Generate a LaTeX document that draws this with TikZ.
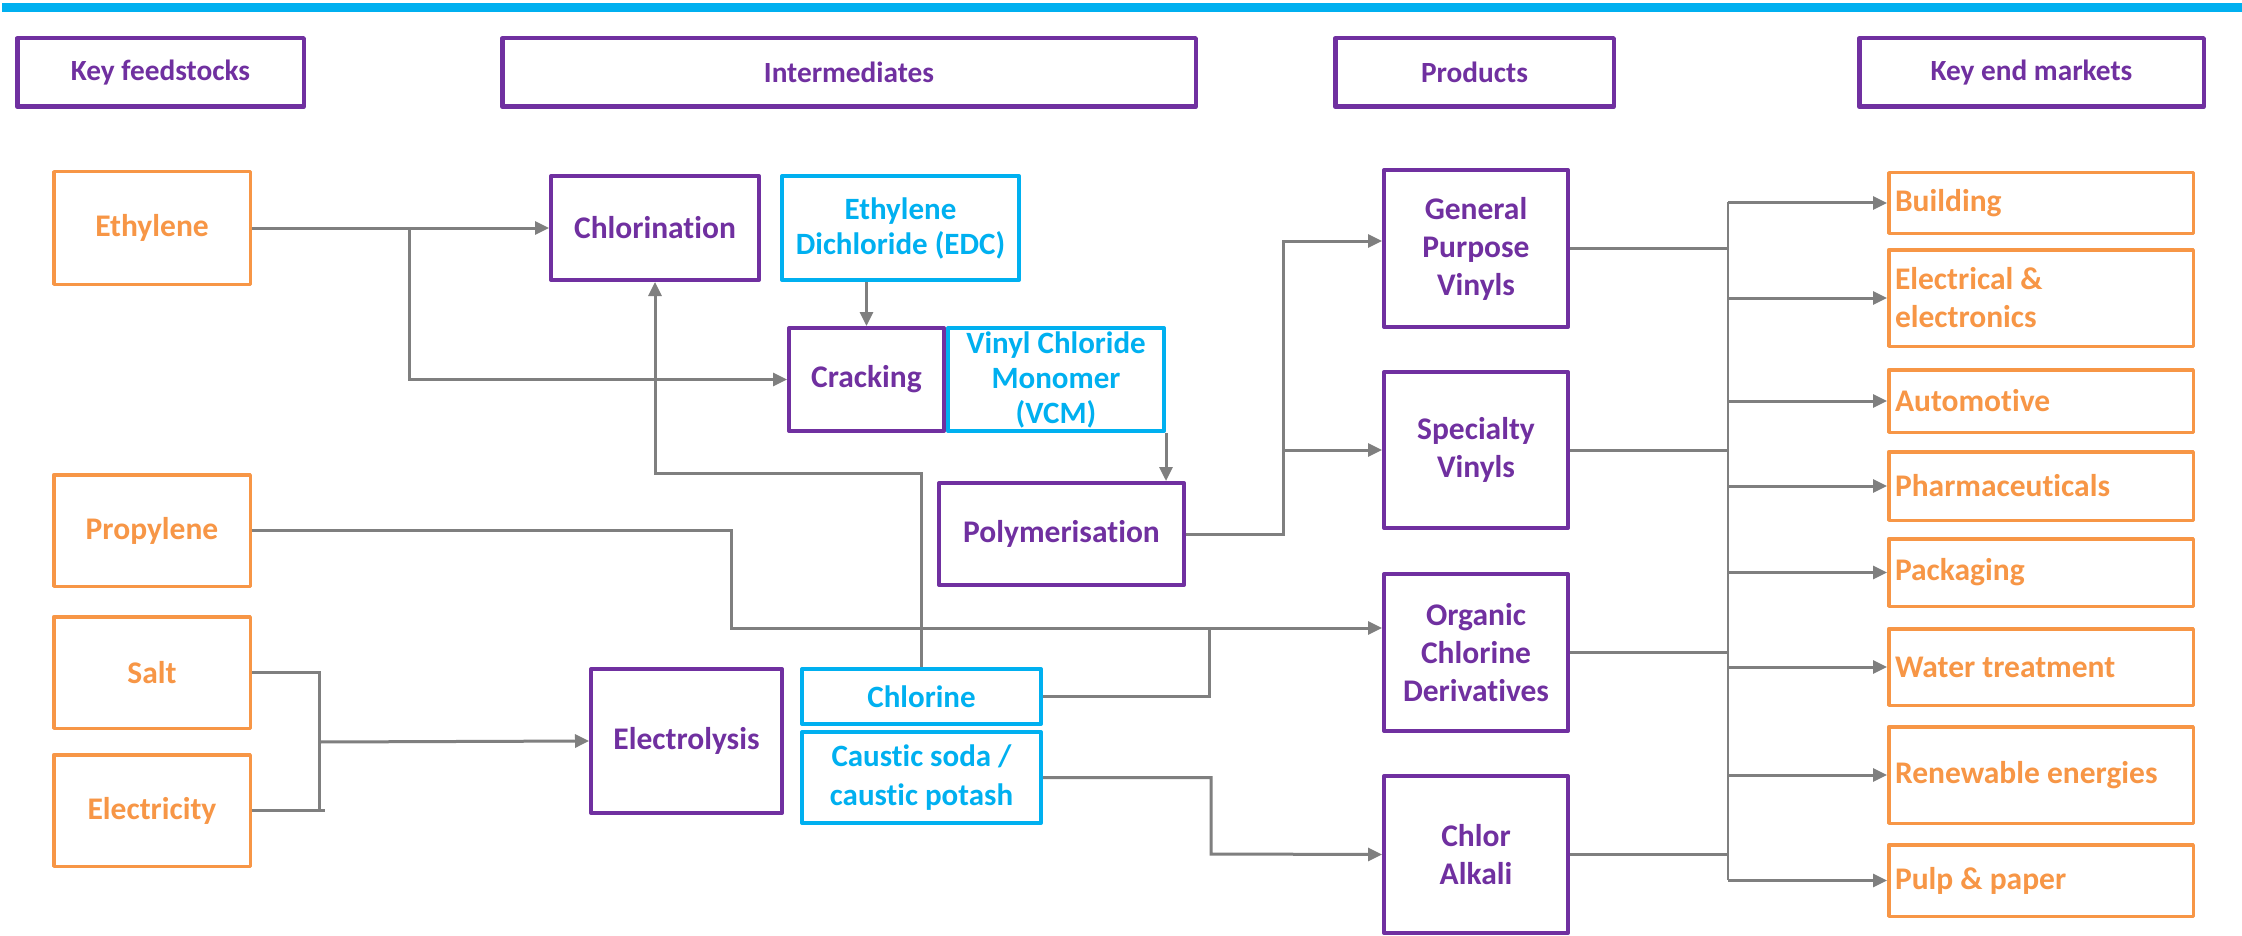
\documentclass[tikz,border=0pt]{standalone}
\usepackage{fontspec}
\setmainfont{Carlito}[Ligatures=NoCommon]
\usetikzlibrary{arrows.meta}
\definecolor{cpurple}{HTML}{7030A0}
\definecolor{corange}{HTML}{F79646}
\definecolor{cblue}{HTML}{00B0F0}
\definecolor{cgray}{HTML}{7F7F7F}
\begin{document}
\begin{tikzpicture}[x=1pt,y=-1pt,
  base/.style={inner sep=0pt, align=center, line join=round, font=\fontsize{31.5}{38}\selectfont\bfseries},
  hdr/.style={base, draw=cpurple, line width=4.5pt, text=cpurple, minimum height=68.5pt, font=\fontsize{29.3}{35}\selectfont\bfseries},
  feed/.style={base, draw=corange, line width=3.5pt, text=corange, minimum width=196.5pt},
  inter/.style={base, draw=cpurple, line width=4pt, text=cpurple},
  bluebox/.style={base, draw=cblue, line width=4pt, text=cblue, font=\fontsize{31}{35}\selectfont\bfseries},
  prod/.style={base, draw=cpurple, line width=4pt, text=cpurple, minimum width=184pt, font=\fontsize{31.5}{38}\selectfont\bfseries},
  mktbox/.style={base, draw=corange, line width=3.5pt, text=corange, minimum width=304.5pt, text width=292pt, inner xsep=6pt, align=flush left, font=\fontsize{31.5}{38}\selectfont\bfseries},
  conn/.style={draw=cgray, line width=3pt},
  arr/.style={conn, -{Triangle[length=14pt,width=13pt]}},
  busline/.style={draw=cgray, line width=2pt}
]
\useasboundingbox (0,0) rectangle (2242,936);
\fill[white] (0,0) rectangle (2242,936);
% top line
\coordinate (tl) at (2,7.5);
\coordinate (tr) at (2242,7.5);
\draw[cblue, line width=9pt] (tl) -- (tr);
% headers
\node[hdr, minimum width=286.5pt] (hfeed) at (160.5,72.5) {Key feedstocks};
\node[hdr, minimum width=693.5pt] (hinter) at (849,72.5) {Intermediates};
\node[hdr, minimum width=278.5pt] (hprod) at (1474.5,72.5) {Products};
\node[hdr, minimum width=344.5pt] (hmark) at (2031.5,72.5) {Key end markets};
% feedstocks
\node[feed, minimum height=112.5pt] (ethylene) at (152,228) {Ethylene};
\node[feed, minimum height=111.5pt] (propylene) at (152,530.5) {Propylene};
\node[feed, minimum height=111.5pt] (salt) at (152,672.5) {Salt};
\node[feed, minimum height=111.5pt] (electricity) at (152,810.5) {Electricity};
% intermediates
\node[inter, minimum width=208pt, minimum height=104pt] (chlor) at (655,228) {Chlorination};
\node[inter, minimum width=155pt, minimum height=103pt] (crack) at (866.5,379.5) {Cracking};
\node[inter, minimum width=245pt, minimum height=102pt] (poly) at (1061.5,534) {Polymerisation};
\node[inter, minimum width=191pt, minimum height=144pt] (electro) at (686.5,741) {Electrolysis};
\node[bluebox, minimum width=237pt, minimum height=104pt] (edc) at (900.5,228) {Ethylene\\Dichloride (EDC)};
\node[bluebox, minimum width=216pt, minimum height=103pt] (vcm) at (1056,379.5) {Vinyl Chloride\\Monomer\\(VCM)};
\node[bluebox, minimum width=239pt, minimum height=55pt] (chlorine) at (921.5,696.5) {Chlorine};
\node[bluebox, minimum width=239pt, minimum height=91pt, font=\fontsize{31}{39}\selectfont\bfseries] (caustic) at (921.5,777.5) {Caustic soda /\\caustic potash};
% products
\node[prod, minimum height=157pt] (gpv) at (1476,248.5) {General\\Purpose\\Vinyls};
\node[prod, minimum height=156pt] (spec) at (1476,450) {Specialty\\Vinyls};
\node[prod, minimum height=157pt] (org) at (1476,652.5) {Organic\\Chlorine\\Derivatives};
\node[prod, minimum height=157pt] (ca) at (1476,854.5) {Chlor\\Alkali};
% markets
\node[mktbox, minimum height=60.5pt] (building) at (2041,203) {Building};
\node[mktbox, minimum height=96.5pt] (electrical) at (2041,298) {Electrical \&\\electronics};
\node[mktbox, minimum height=62.5pt] (auto) at (2041,401) {Automotive};
\node[mktbox, minimum height=68.5pt] (pharma) at (2041,486) {Pharmaceuticals};
\node[mktbox, minimum height=67.5pt] (pack) at (2041,572.5) {Packaging};
\node[mktbox, minimum height=76.5pt] (water) at (2041,667) {Water treatment};
\node[mktbox, minimum height=96.5pt] (renew) at (2041,775) {Renewable energies};
\node[mktbox, minimum height=71.5pt] (pulp) at (2041,880.5) {Pulp \& paper};
% junction coordinates
\coordinate (ej) at (409,228);
\coordinate (uj) at (920,473);
\coordinate (pp) at (731,628);
\coordinate (cj) at (1209,628);
\coordinate (kj) at (1211,854);
\coordinate (sj) at (319,742);
\coordinate (pj) at (1283,241);
\coordinate (bustop) at (1728,202);
\coordinate (busbot) at (1728,880);
% connectors
\draw[arr] (ethylene.east) -- (chlor.west);
\draw[arr] (ej) |- (crack.west);
\draw[arr] (edc.south -| crack.north) -- (crack.north);
\draw[arr] (chlorine.north) -- (chlorine.north |- uj) -| (chlor.south);
\draw[arr] (vcm.south east) -- (vcm.south east |- poly.north);
\draw[arr] (propylene.east) -| (pp) -- (pp -| org.west);
\draw[conn] (chlorine.east) -| (cj);
\draw[arr] (caustic.east) -| (kj) -- (ca.west);
\draw[conn] (salt.east) -- (salt.east -| sj) -- (electricity.east -| sj);
\draw[conn] (electricity.east) -- ++(73,0);
\draw[arr] (sj) -- (electro.west);
\draw[arr] (poly.east) -| (pj) -- (pj -| gpv.west);
\draw[arr] (poly.east -| pj) |- (spec.west);
% products to bus
\draw[conn] (gpv.east) -- (gpv.east -| bustop);
\draw[conn] (spec.east) -- (spec.east -| bustop);
\draw[conn] (org.east) -- (org.east -| bustop);
\draw[conn] (ca.east) -- (ca.east -| bustop);
\draw[busline] (bustop) -- (busbot);
\foreach \m in {building,electrical,auto,pharma,pack,water,renew,pulp}
  \draw[arr] (\m.west -| bustop) -- (\m.west);
\end{tikzpicture}
\end{document}
